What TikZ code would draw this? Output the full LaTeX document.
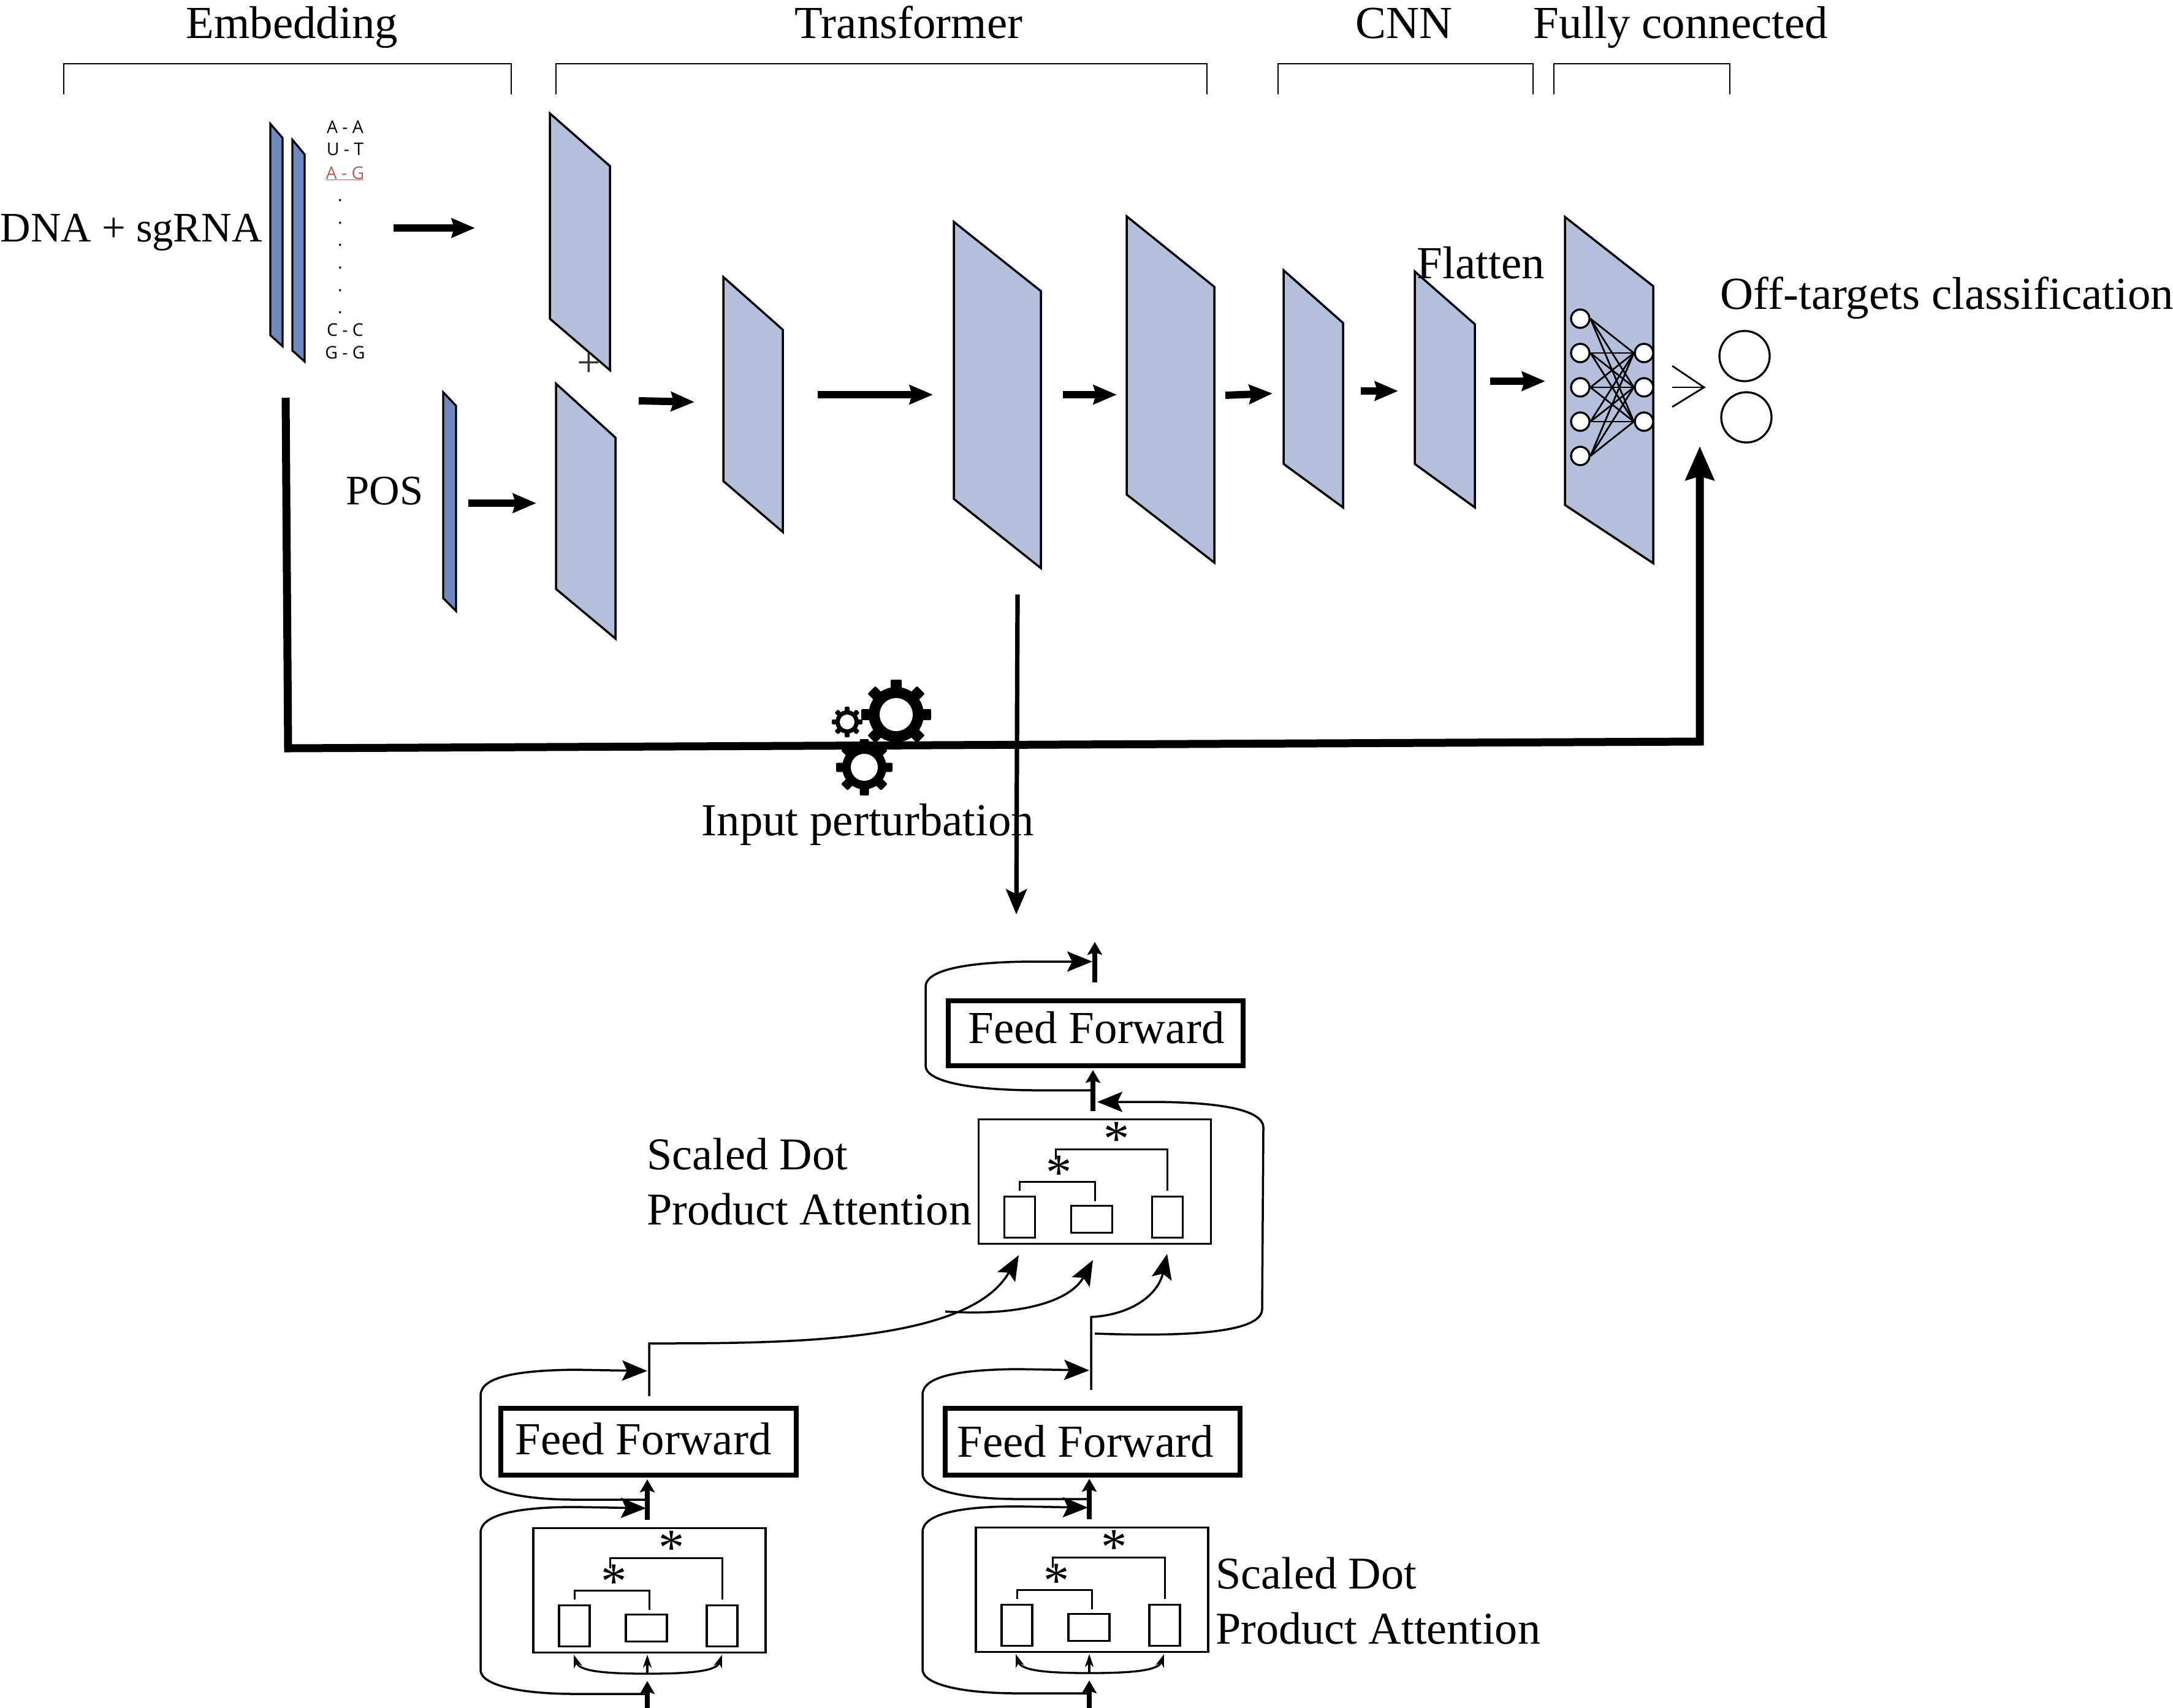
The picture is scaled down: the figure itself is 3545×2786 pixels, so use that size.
\documentclass[tikz,border=0pt]{standalone}
\usepackage{fontspec}
\setmainfont{Liberation Serif}
\newfontfamily\seqfont{Open Sans}
\usetikzlibrary{arrows.meta}
\definecolor{darkbar}{HTML}{6F89C0}
\definecolor{lightbar}{HTML}{B4BFDC}
\definecolor{redseq}{HTML}{B85C5C}
\tikzset{
  lab/.style={font=\fontsize{21.3}{25}\selectfont,inner sep=0pt,anchor=base west},
  capt/.style={font=\fontsize{21.1}{25}\selectfont,inner sep=0pt,anchor=base west},
  labs/.style={font=\fontsize{19.5}{25}\selectfont,inner sep=0pt,anchor=base west},
  ast/.style={font=\fontsize{24}{25}\selectfont,inner sep=0pt,anchor=base},
  seqtxt/.style={font=\seqfont\fontsize{8.1}{10}\selectfont,inner sep=0pt,anchor=base},
  layer/.style={draw=black,fill=lightbar,line width=.35mm,line join=miter},
  thinbar/.style={draw=black,fill=darkbar,line width=.33mm,line join=miter},
  brace/.style={draw=black,line width=.25mm},
  bigarr/.style={-{Stealth[length=3.8mm,width=3.1mm,inset=.4mm]},line width=1.2mm},
  hugearr/.style={-{Stealth[length=5.5mm,width=4.6mm,inset=.6mm]},line width=1.3mm,line join=miter},
  midarr/.style={-{Stealth[length=4.1mm,width=3.4mm,inset=.8mm]},line width=.72mm},
  stubarr/.style={-{Stealth[length=2.1mm,width=2.4mm,inset=.4mm]},line width=.75mm},
  curvearr/.style={-{Stealth[length=4.1mm,width=3.3mm,inset=.8mm]},line width=.35mm},
  smallarr/.style={-{Stealth[length=2.1mm,width=1.4mm,inset=.6mm]},line width=.33mm},
  ffbox/.style={draw=black,line width=.8mm,inner sep=0pt,rectangle},
  attbox/.style={draw=black,line width=.33mm,inner sep=0pt,rectangle},
  cell/.style={draw=black,line width=.33mm,inner sep=0pt,rectangle},
  neuron/.style={circle,draw=black,fill=white,line width=.33mm,inner sep=0pt,minimum size=3mm},
  outc/.style={circle,draw=black,line width=.33mm,inner sep=0pt,minimum size=8.2mm},
  wire/.style={line width=.28mm},
}
% attention block, drawn at the position of the upper one + shift
\newcommand\attn[3]{%
\begin{scope}[shift={(#2,#3)}]
  \node[attbox,minimum width=37.9mm,minimum height=20.3mm] (#1box) at (1786,1928) {};
  \node[cell,minimum width=5mm,minimum height=6.7mm] (#1a) at (1663.5,1986) {};
  \node[cell,minimum width=6.7mm,minimum height=4.4mm] (#1b) at (1781,1989.5) {};
  \node[cell,minimum width=5mm,minimum height=6.7mm] (#1c) at (1904.5,1986) {};
  \coordinate (#1ia) at (1663.5,1943);
  \coordinate (#1ib) at (1786,1960);
  \coordinate (#1oa) at (1722,1892);
  \coordinate (#1oc) at (1904.5,1943);
  \draw[line width=.3mm] (#1ia) |- (#1ib |- 0,1928) -- (#1ib);
  \draw[line width=.3mm] (#1oa) |- (#1oc |- 0,1875) -- (#1oc);
  \node[ast] (#1s1) at (1822,1886) {*};
  \node[ast] (#1s2) at (1728,1941) {*};
\end{scope}}
% lower feed-forward loops
\newcommand\loops[3]{%
\begin{scope}[shift={(#2,#3)}]
  \coordinate (#1up) at (1056,2237);
  \coordinate (#1mid) at (1054,2447);
  \coordinate (#1tip) at (1054,2461);
  \coordinate (#1bot) at (1056,2764);
  \draw[curvearr] (#1mid) -- (938,2447) .. controls (850,2447) and (784,2432) .. (784,2406)
     -- (784,2277) .. controls (784,2245) and (850,2236) .. (938,2235) -- (#1up);
  \draw[curvearr] (#1bot) -- (938,2764) .. controls (850,2764) and (784,2750) .. (784,2725)
     -- (784,2501) .. controls (784,2470) and (850,2459) .. (938,2459) -- (#1tip);
  \coordinate (#1s0) at (1056,2480);
  \coordinate (#1s1) at (1056,2414);
  \draw[stubarr] (#1s0) -- (#1s1);
  \coordinate (#1b0) at (1056,2796);
  \coordinate (#1b1) at (1056,2743);
  \draw[stubarr] (#1b0) -- (#1b1);
  \coordinate (#1f) at (1056,2731);
  \coordinate (#1fa) at (936,2700);
  \coordinate (#1fb) at (1056,2700);
  \coordinate (#1fc) at (1178,2700);
  \draw[smallarr] (#1f) -- (#1fb);
  \draw[smallarr] (#1f) .. controls (980,2731) and (945,2726) .. (#1fa);
  \draw[smallarr] (#1f) .. controls (1132,2731) and (1169,2726) .. (#1fc);
\end{scope}}
\newcommand\gear[6]{%
\begin{scope}[shift={(#1,#2)}]
  \fill[black] (0,0) circle ({#4*0.1mm});
  \foreach \a in {0,45,...,315}
    \fill[black,rotate=\a,rounded corners=.2mm] (-#6,-#3) rectangle (#6,0);
  \fill[white] (0,0) circle ({#5*0.1mm});
\end{scope}}
\begin{document}
\begin{tikzpicture}[x=0.1mm,y=-0.1mm]
\useasboundingbox (0,0) rectangle (3545,2786);
% section labels
\node[lab] (lEmb) at (303,63) {Embedding};
\node[lab] (lTra) at (1296,63) {Transformer};
\node[lab] (lCnn) at (2211,63) {CNN};
\node[lab] (lFc)  at (2501,63) {Fully connected};
\draw[brace] (104,154) |- (834,104) -- (834,154);
\draw[brace] (907,154) |- (1969,104) -- (1969,154);
\draw[brace] (2085,154) |- (2501,104) -- (2501,154);
\draw[brace] (2535,154) |- (2822,104) -- (2822,154);
% input
\node[labs] (lDna) at (0,394) {DNA + sgRNA};
\node[labs] (lPos) at (564,823) {POS};
\draw[thinbar] (441,202) -- (461,225) -- (461,565) -- (441,547) -- cycle;
\draw[thinbar] (477,228) -- (497,252) -- (497,590) -- (477,572) -- cycle;
\draw[thinbar] (723,640) -- (744,662) -- (744,997) -- (723,976) -- cycle;
\node[seqtxt] (s1) at (563,217.5) {A - A};
\node[seqtxt] (s2) at (563,253.5) {U - T};
\node[seqtxt,text=redseq] (s3) at (563,292) {A - G};
\draw[redseq,line width=.13mm] (532,293.5) -- (593,293.5);
\foreach \n/\y in {a/328,b/365,c/401,d/438,e/475,f/511}
  \node[seqtxt] (dot\n) at (555,\y) {.};
\node[seqtxt] (s4) at (563,548.5) {C - C};
\node[seqtxt] (s5) at (563,585.5) {G - G};
% layers
\draw[layer] (897,185) -- (995,271) -- (995,604) -- (897,520) -- cycle;
\draw[layer] (907,626) -- (1004,714) -- (1004,1042) -- (907,961) -- cycle;
\draw[layer] (1180,452) -- (1277,538) -- (1277,868) -- (1180,785) -- cycle;
\draw[layer] (1556,362) -- (1698,475) -- (1698,927) -- (1556,814) -- cycle;
\draw[layer] (1838,353) -- (1981,468) -- (1981,918) -- (1838,807) -- cycle;
\draw[layer] (2094,441) -- (2191,527) -- (2191,828) -- (2094,757) -- cycle;
\draw[layer] (2308,443) -- (2406,529) -- (2406,828) -- (2308,757) -- cycle;
\draw[layer] (2553,354) -- (2697,467) -- (2697,919) -- (2553,824) -- cycle;
\node[labs,anchor=center,text=black!80] (lPlus) at (961,595) {+};
\node[lab] (lFlat) at (2311,454) {Flatten};
% arrows between layers
\foreach \n/\x/\y/\u/\v in {A/642/372/775/372,B/764/821/875/821,C/1042/654/1133/656,
    D/1334/644/1522/644,E/1734/644/1822/644,F/1999/645/2076/642,G/2220/638/2281/638,H/2431/622/2521/622}{
  \coordinate (st\n) at (\x,\y);
  \coordinate (en\n) at (\u,\v);
  \draw[bigarr] (st\n) -- (en\n);
}
% network
\foreach \i/\y in {1/520,2/576,3/632,4/688,5/744}
  \node[neuron] (L\i) at (2578,\y) {};
\foreach \j/\y in {1/576,2/632,3/688}
  \node[neuron] (R\j) at (2682,\y) {};
\foreach \i in {1,...,5}
  \foreach \j in {1,2,3}
    \draw[wire] (L\i.east) -- (R\j.west);
\coordinate (oa) at (2728,597);
\coordinate (ob) at (2728,632);
\coordinate (oc) at (2728,664);
\coordinate (od) at (2780,632);
\draw[wire] (oa) -- (od) -- (oc);
\draw[wire] (ob) -- (od);
\node[outc] (O1) at (2846,581) {};
\node[outc] (O2) at (2849,681) {};
\node[lab] (lOff) at (2806,504) {Off-targets classification};
% perturbation path
\coordinate (p0) at (466,649);
\coordinate (p1) at (470,1221);
\coordinate (p2) at (2773,1210);
\coordinate (p3) at (2773,728);
\draw[hugearr] (p0) -- (p1) -- (p2) -- (p3);
\coordinate (t0) at (1660,970);
\coordinate (t1) at (1658,1492);
\draw[midarr] (t0) -- (t1);
\gear{1462}{1166}{57}{45}{27}{9}
\gear{1410}{1252}{46}{36}{22}{7.5}
\gear{1382}{1178}{25}{19}{12}{4}
\node[lab] (lInp) at (1144,1363) {Input perturbation};
% upper transformer block
\node[ffbox,minimum width=48.1mm,minimum height=10.6mm] (FFu) at (1787,1686) {};
\node[lab] (tFFu) at (1579,1702) {Feed Forward};
\attn{U}{0}{0}
\coordinate (uv0) at (1783,1813);
\coordinate (uv1) at (1783,1746);
\draw[stubarr] (uv0) -- (uv1);
\coordinate (uw0) at (1786,1603);
\coordinate (uw1) at (1786,1537);
\draw[stubarr] (uw0) -- (uw1);
\coordinate (ul0) at (1783,1779);
\coordinate (ul1) at (1782,1569);
\draw[curvearr] (ul0) -- (1690,1779) .. controls (1600,1779) and (1510,1768) .. (1510,1739)
   -- (1510,1610) .. controls (1510,1578) and (1600,1569) .. (1690,1569) -- (ul1);
\coordinate (ur0) at (1786,2176);
\coordinate (ur1) at (1790,1798);
\draw[curvearr] (ur0) .. controls (1900,2180) and (2059,2180) .. (2059,2136)
   -- (2061,1840) .. controls (2061,1805) and (1960,1798) .. (1875,1798) -- (ur1);
% lower left block
\node[ffbox,minimum width=48.2mm,minimum height=10.9mm] (FFl) at (1058,2352.5) {};
\node[lab] (tFFl) at (840,2373) {Feed Forward};
\attn{L}{-726.5}{667}
\loops{a}{0}{0}
% lower right block
\node[ffbox,minimum width=48.1mm,minimum height=10.9mm] (FFr) at (1782.5,2352.5) {};
\node[lab] (tFFr) at (1561,2377) {Feed Forward};
\attn{R}{-4.5}{666}
\loops{b}{721}{-1}
% connections up
\coordinate (lv0) at (1059,2278);
\coordinate (lv1) at (1059,2192);
\coordinate (q1) at (1662,2048);
\coordinate (br) at (1542,2140);
\coordinate (q2) at (1783,2056);
\draw[curvearr] (lv0) -- (lv1) .. controls (1280,2192) and (1580,2192) .. (q1);
\draw[curvearr] (br) .. controls (1660,2148) and (1745,2125) .. (q2);
\coordinate (rv0) at (1780,2268);
\coordinate (rv1) at (1780,2149);
\coordinate (q3) at (1904,2046);
\draw[curvearr] (rv0) -- (rv1) .. controls (1850,2145) and (1890,2110) .. (q3);
% captions
\node[capt] (c1) at (1055,1908) {Scaled Dot};
\node[capt] (c2) at (1055,1998) {Product Attention};
\node[capt] (c3) at (1983,2592) {Scaled Dot};
\node[capt] (c4) at (1983,2682) {Product Attention};
\end{tikzpicture}
\end{document}
